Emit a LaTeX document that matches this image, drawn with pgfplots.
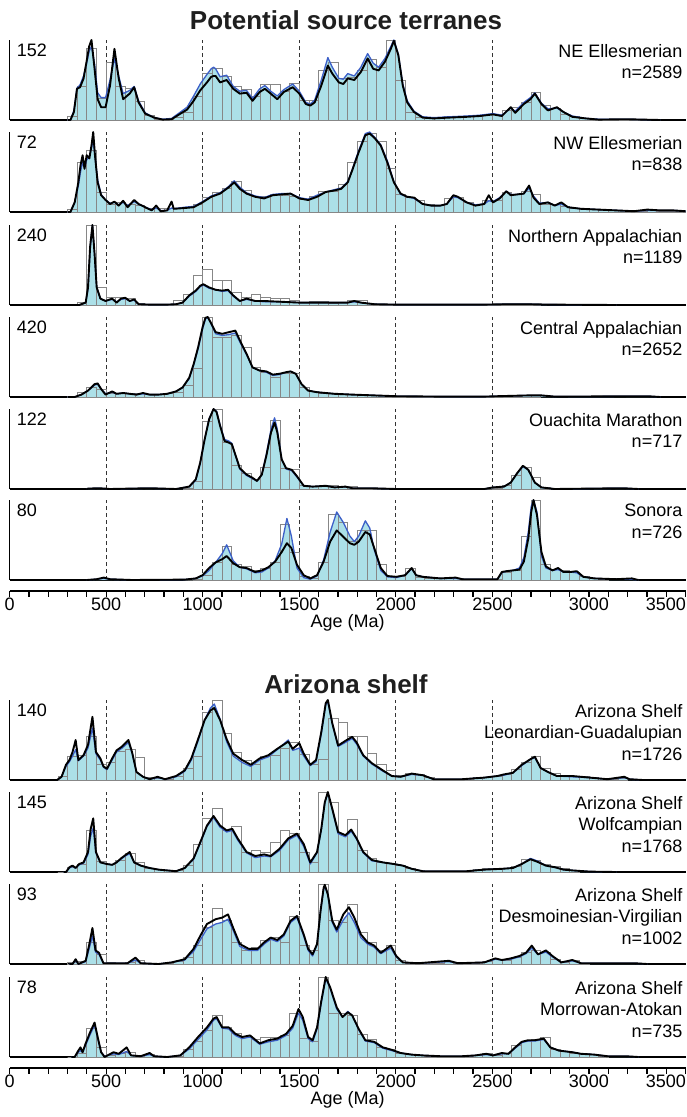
\documentclass[border=0pt]{standalone}
\usepackage{fontspec}
\setmainfont{Liberation Sans}
\usepackage{pgfplots}
\usepackage{pgfplotstable}
\pgfplotsset{compat=1.18}
\definecolor{fillc}{RGB}{172,224,232}
\definecolor{blc}{RGB}{60,95,200}
\definecolor{barc}{RGB}{135,135,135}
\newcommand{\lbl}{\fontsize{18}{21.5}\selectfont}

% ---------- NE Ellesmerian ----------
\pgfplotstableread{
a k p
300 0 0
315 0 0
333 10 12
349 39 40
365 41 44
383 52 55
400 75 72
412 92 86
424 100 92
440 64 70
456 26 34
474 16 28
497 16 28
520 43 50
543 89 77
565 52 55
588 26 33
622 33 37
645 41 42
668 22 24
702 8 9
748 3 3
793 0.5 1
839 1 2
885 8 10
919 13 16
953 24 30
987 37 45
1022 47 57
1044 54 64
1056 55 66
1067 55 64
1090 47 54
1124 50 56
1158 39 42
1192 33 36
1227 34 37
1258 24 27
1295 35 39
1322 39 43
1352 33 36
1386 26 30
1420 35 38
1466 41 45
1500 33 36
1534 20 22
1557 18 20
1580 22 25
1614 43 50
1648 68 78
1671 58 66
1705 47 52
1728 45 51
1751 52 58
1785 50 55
1819 60 66
1854 77 83
1883 64 71
1911 62 66
1944 73 77
1974 89 92
1990 99 100
2013 81 82
2036 43 45
2059 22 24
2094 10 11
2139 3 4
2196 2 3
2275 3 4
2367 4 5
2435 5 6
2503 7 8
2549 5 6
2595 16 15
2618 9 11
2663 20 22
2697 26 28
2720 33 34
2754 20 21
2788 12 14
2834 16 15
2868 10 10
2914 4 5
2982 2 2
3051 0.5 1
3188 1 1
3279 0.5 0.5
3370 0 0
}\cA
\pgfplotstableread{
a h
300 5
350 42
400 90
450 27
500 72
550 42
600 40
650 23
700 6
750 1
800 1
850 3
900 10
950 30
1000 58
1050 65
1100 55
1150 42
1200 38
1250 30
1300 45
1350 45
1400 36
1450 46
1500 24
1550 25
1600 62
1650 72
1700 52
1750 53
1800 62
1850 76
1900 66
1950 100
2000 50
2050 10
2100 3
2150 3
2200 3
2250 4
2300 4
2350 5
2400 5
2450 7
2500 7
2550 12
2600 16
2650 22
2700 34
2750 18
2800 14
2850 7
2900 4
2950 2
3000 1
3050 1
3100 1
3150 1
3200 1
3250 0
3300 0
}\hA

% ---------- NW Ellesmerian ----------
\pgfplotstableread{
a k p
300 0 0
315 0 0
337 12 12
356 37 33
367 58 50
378 71 62
388 54 55
399 71 65
413 67 70
424 83 80
433 100 90
442 71 70
456 37 40
474 21 22
497 15 15
520 10 11
543 13 12
565 8 9
588 14 12
611 6 8
645 15 13
668 10 10
702 6 6
736 2 3
759 8 5
782 1 2
816 2 2
839 13 5
850 4 4
907 5 6
953 6 7
999 12 13
1044 19 20
1090 23 24
1135 31 32
1163 37 39
1192 29 31
1227 23 24
1272 19 20
1318 17 18
1363 21 22
1409 22 23
1455 23 23
1500 17 18
1546 15 16
1592 19 21
1637 25 25
1683 27 28
1717 29 30
1751 37 38
1774 52 53
1808 75 77
1842 96 98
1865 98 100
1892 92 93
1922 83 84
1956 62 64
1990 37 38
2025 23 22
2059 19 19
2094 18 17
2139 10 10
2184 8 8
2230 8 8
2264 10 10
2298 21 19
2321 19 18
2367 12 12
2412 8 9
2458 10 10
2481 21 14
2503 12 13
2538 17 18
2572 26 26
2595 21 22
2629 22 22
2663 23 23
2690 33 30
2713 18 20
2743 10 11
2788 12 12
2823 8 8
2857 12 10
2891 6 6
2959 4 4
3051 3 3
3142 2 2
3233 1 1
3302 3 2
3370 2 2
3438 2 2
3500 1 1
}\cB
\pgfplotstableread{
a h
300 3
350 62
400 77
450 25
500 10
550 12
600 10
650 8
700 4
750 4
800 5
850 5
900 6
950 9
1000 18
1050 25
1100 30
1150 38
1200 27
1250 20
1300 19
1350 22
1400 21
1450 20
1500 16
1550 19
1600 26
1650 26
1700 34
1750 62
1800 88
1850 98
1900 88
1950 55
2000 22
2050 18
2100 15
2150 9
2200 8
2250 17
2300 18
2350 12
2400 9
2450 14
2500 14
2550 25
2600 22
2650 26
2700 22
2750 10
2800 10
2850 7
2900 5
2950 4
3000 3
3050 2
3100 2
3150 2
3200 1
3250 1
3300 2
3350 1
3400 1
3450 1
3500 0
}\hB

% ---------- Northern Appalachian ----------
\pgfplotstableread{
a k p
350 0 0
360 0 0
394 3 3
406 22 20
417 73 70
429 100 100
440 64 62
451 22 22
470 8 8
497 5 5
531 8 7
554 3 4
577 8 7
599 9 8
622 5 5
645 7 6
668 1 1
725 0.5 0.5
816 0.5 0.5
862 1 1
896 3 3
930 12 11
964 18 17
987 24 23
1003 26 25
1033 22 21
1067 19 19
1101 18 17
1131 19 18
1158 12 11
1192 5 5
1227 8 7
1272 5 5
1318 5 4
1409 4 4
1500 3 3
1592 3 3
1683 3 3
1751 3 3
1785 5 4
1819 3 3
1888 1 1
2002 0.5 0.5
2230 0.5 0.5
2458 0.5 0.5
2572 1 1
2686 1 1
2800 0.5 0.5
3142 0 0
}\cC
\pgfplotstableread{
a h
350 3
400 100
450 22
500 9
550 10
600 8
650 2
700 1
750 1
800 1
850 6
900 13
950 37
1000 45
1050 31
1100 31
1150 16
1200 10
1250 13
1300 9
1350 8
1400 8
1450 6
1500 3
1550 5
1600 5
1650 2
1700 3
1750 6
1800 6
1850 2
1900 1
1950 1
2000 0.5
2050 0.5
2100 0.5
2150 0.5
2200 0.5
2250 0.5
2300 0.5
2350 0.5
2400 0.5
2450 0.5
2500 1
2550 2
2600 2
2650 2
2700 1
2750 0
}\hC

% ---------- Central Appalachian ----------
\pgfplotstableread{
a k p
300 0 0
337 0 0
372 3 3
406 8 8
440 16 15
456 17 16
474 10 10
497 3 4
531 7 6
554 4 4
588 5 5
622 4 4
657 3 3
691 5 4
725 3 3
771 3 3
816 4 4
862 7 7
896 12 12
930 24 23
953 41 40
976 62 60
999 87 85
1014 99 97
1026 100 100
1044 92 91
1067 81 79
1101 79 77
1135 81 78
1169 83 80
1192 71 69
1227 54 53
1258 37 37
1295 33 33
1329 32 31
1363 28 27
1397 29 28
1432 31 31
1455 32 32
1482 29 29
1512 16 16
1546 8 8
1592 6 6
1637 5 5
1683 4 4
1774 3 3
1888 2 2
2002 1 1
2230 0.5 0.5
2458 0.5 0.5
2526 1 1
2686 2 2
2754 2 2
2823 0.5 0.5
3302 1 1
3370 0 0
}\cD
\pgfplotstableread{
a h
300 1
350 6
400 12
450 10
500 4
550 4
600 4
650 4
700 3
750 3
800 4
850 6
900 15
950 36
1000 100
1050 75
1100 75
1150 77
1200 62
1250 37
1300 31
1350 25
1400 29
1450 29
1500 12
1550 7
1600 5
1650 4
1700 3
1750 3
1800 3
1850 2
1900 2
1950 1
2000 1
2050 0.5
2100 0.5
2150 0.5
2200 0.5
2250 0.5
2300 0.5
2350 0.5
2400 0.5
2450 0.5
2500 0.5
2550 1
2600 1
2650 2
2700 2
2750 0
}\hD

% ---------- Ouachita Marathon ----------
\pgfplotstableread{
a k p
400 0 0
406 0.5 0.5
463 1 1
520 0 0
725 1 1
862 0 0
930 3 3
964 12 11
987 33 32
1010 62 62
1033 87 88
1056 100 100
1072 96 97
1090 79 80
1113 60 62
1135 58 60
1151 56 57
1169 43 42
1192 26 25
1227 18 17
1258 14 13
1281 10 10
1306 18 18
1329 41 43
1354 71 75
1372 83 89
1386 71 75
1409 37 37
1432 26 25
1461 24 23
1488 16 15
1523 4 4
1569 3 3
1637 4 4
1683 2 2
1739 3 3
1774 1 1
1865 1 1
2002 0 0
2458 0 0
2503 2 2
2560 3 3
2595 8 8
2629 20 20
2658 29 28
2686 24 24
2720 8 8
2754 2 2
2823 0 0
3176 1 1
3256 0 0
}\cE
\pgfplotstableread{
a h
900 1
950 10
1000 85
1050 100
1100 58
1150 30
1200 20
1250 12
1300 27
1350 86
1400 26
1450 25
1500 4
1550 3
1600 3
1650 4
1700 2
1750 3
1800 1
1850 1
1900 0
2500 1
2550 4
2600 17
2650 27
2700 14
2750 2
2800 0
}\hE

% ---------- Sonora ----------
\pgfplotstableread{
a k p
400 0 0
451 1 1
488 3 2
520 1 1
634 0 0
907 0.5 0.5
964 2 2
999 6 5
1033 15 12
1067 22 22
1101 26 33
1124 30 44
1158 21 24
1192 16 16
1227 15 14
1272 10 9
1306 12 10
1340 16 15
1375 23 24
1409 35 45
1436 46 77
1459 40 55
1488 19 15
1523 6 3
1557 2 1
1592 6 5
1626 23 25
1660 48 60
1694 62 85
1728 54 72
1762 46 55
1785 44 48
1808 48 55
1842 60 74
1865 57 65
1888 40 38
1922 15 12
1956 5 4
2002 4 3
2048 6 6
2082 15 14
2105 6 6
2139 4 4
2184 3 3
2230 2 2
2310 3 2
2344 1 1
2458 1 1
2526 1 1
2549 10 9
2572 11 11
2606 12 12
2640 13 15
2663 23 28
2686 52 60
2701 85 92
2713 100 100
2731 81 85
2754 35 30
2777 17 15
2811 12 12
2840 15 13
2868 10 10
2903 10 10
2937 11 9
2971 4 4
3028 2 2
3142 1 1
3222 2 1
3256 0 0
}\cF
\pgfplotstableread{
a h
900 0
950 1
1000 6
1050 22
1100 42
1150 20
1200 17
1250 12
1300 14
1350 22
1400 70
1450 35
1500 4
1550 2
1600 22
1650 82
1700 72
1750 48
1800 62
1850 62
1900 20
1950 5
2000 4
2050 15
2100 3
2150 2
2200 2
2250 2
2300 2
2350 1
2400 1
2450 1
2500 1
2550 10
2600 12
2650 55
2700 100
2750 20
2800 13
2850 12
2900 10
2950 4
3000 2
3050 1
3100 0
}\hF

% ---------- AZ Leonardian-Guadalupian ----------
\pgfplotstableread{
a k p
230 0 0
246 0 0
269 4 4
292 19 17
310 25 23
326 35 30
342 50 38
356 25 24
383 31 30
406 44 40
429 79 65
447 35 33
470 27 25
486 17 16
504 14 13
531 27 25
554 37 35
583 42 40
615 50 47
634 35 34
657 10 10
691 4 4
725 1 1
766 4 3
805 1 1
862 5 4
907 12 11
941 27 25
976 51 49
1010 75 75
1040 87 90
1060 90 95
1090 75 76
1124 51 48
1158 33 30
1204 25 22
1249 19 17
1295 27 25
1340 31 29
1386 39 38
1443 48 50
1466 39 37
1500 46 40
1523 33 30
1557 19 18
1587 25 23
1614 60 58
1637 96 94
1648 100 98
1671 71 70
1701 43 42
1739 49 47
1774 54 52
1797 47 45
1831 31 30
1876 21 20
1933 12 11
1979 5 5
2025 4 4
2082 8 7
2139 6 6
2196 1 1
2344 1 1
2458 3 3
2526 5 5
2560 7 6
2606 9 9
2652 19 18
2697 26 26
2720 29 28
2750 15 15
2788 10 10
2834 5 5
2914 5 4
3005 3 3
3096 1 1
3183 4 3
3210 1 1
3279 0 0
}\cG
\pgfplotstableread{
a h
250 5
300 30
350 31
400 55
450 20
500 22
550 36
600 38
650 28
700 3
750 2
800 1
850 5
900 15
950 29
1000 85
1050 100
1100 58
1150 35
1200 25
1250 20
1300 30
1350 31
1400 40
1450 47
1500 32
1550 20
1600 26
1650 77
1700 72
1750 55
1800 55
1850 33
1900 20
1950 12
2000 6
2050 8
2100 7
2150 3
2200 1
2250 1
2300 1
2350 1
2400 3
2450 3
2500 5
2550 7
2600 13
2650 22
2700 30
2750 15
2800 8
2850 5
2900 4
2950 4
3000 3
3050 2
3100 1
3150 2
3200 0
}\hG

% ---------- AZ Wolfcampian ----------
\pgfplotstableread{
a k p
280 0 0
292 0 0
310 6 5
326 8 7
342 5 5
360 10 9
383 12 11
406 25 22
420 54 45
433 67 55
447 25 24
470 12 12
504 10 10
531 9 9
554 12 12
577 17 16
599 21 20
622 25 23
645 12 12
679 8 8
725 5 5
771 3 3
816 2 2
862 1 1
907 5 5
953 17 16
987 37 36
1022 58 57
1056 70 68
1090 58 56
1124 52 50
1153 54 52
1181 42 40
1227 25 24
1272 20 18
1318 22 20
1352 20 19
1398 29 27
1443 42 40
1488 48 46
1523 35 32
1557 12 10
1592 25 24
1614 54 53
1632 87 86
1648 100 99
1671 79 78
1701 50 48
1739 46 44
1769 53 51
1797 42 41
1831 25 24
1876 15 14
1933 12 12
1990 10 10
2036 8 8
2082 4 4
2139 1 1
2230 1 1
2367 1 1
2458 3 3
2549 4 4
2606 5 5
2652 10 10
2697 16 17
2731 13 14
2777 8 8
2823 6 6
2868 3 3
2914 2 2
3005 0.5 0.5
3142 0 0
}\cH
\pgfplotstableread{
a h
250 0
300 6
350 10
400 52
450 13
500 10
550 14
600 23
650 12
700 5
750 3
800 2
850 2
900 8
950 34
1000 67
1050 79
1100 52
1150 57
1200 25
1250 27
1300 25
1350 37
1400 52
1450 48
1500 25
1550 12
1600 100
1650 87
1700 47
1750 66
1800 27
1850 17
1900 12
1950 11
2000 8
2050 4
2100 2
2150 1
2200 1
2250 1
2300 1
2350 1
2400 3
2450 4
2500 4
2550 5
2600 7
2650 16
2700 15
2750 9
2800 7
2850 4
2900 2
2950 0
}\hH

% ---------- AZ Desmoinesian-Virgilian ----------
\pgfplotstableread{
a k p
310 0 0
326 0 0
342 6 4
356 0 0
394 4 3
413 25 20
429 45 35
445 17 15
463 14 12
486 1 1
543 1 1
611 1 1
652 8 5
679 1 1
771 0 0
839 2 2
907 6 5
953 19 16
987 35 30
1022 50 44
1067 56 50
1101 58 52
1131 62 56
1158 45 42
1192 25 22
1238 19 17
1284 19 17
1318 27 25
1352 33 31
1386 30 28
1420 37 35
1455 54 52
1488 60 58
1523 37 35
1546 19 17
1569 12 10
1592 25 24
1610 66 66
1626 95 93
1632 99 97
1648 87 87
1671 54 52
1694 43 40
1728 62 55
1757 71 64
1785 58 52
1819 37 33
1854 27 25
1888 23 21
1922 14 13
1974 23 20
2002 10 9
2036 2 2
2116 1 1
2275 4 3
2321 1 1
2458 2 2
2515 7 6
2549 5 5
2595 7 6
2640 10 9
2674 14 13
2704 23 20
2736 12 12
2777 17 15
2811 10 9
2857 2 2
2914 5 4
2959 1 1
3142 1 1
3233 1 1
3302 0 0
}\cI
\pgfplotstableread{
a h
300 2
350 3
400 27
450 12
500 2
550 1
600 2
650 5
700 1
750 1
800 1
850 3
900 8
950 23
1000 46
1050 69
1100 54
1150 27
1200 17
1250 21
1300 30
1350 33
1400 27
1450 60
1500 23
1550 17
1600 100
1650 54
1700 52
1750 75
1800 39
1850 27
1900 17
1950 23
2000 4
2050 1
2100 1
2150 1
2200 1
2250 3
2300 1
2350 1
2400 1
2450 3
2500 6
2550 5
2600 8
2650 14
2700 17
2750 15
2800 6
2850 2
2900 4
2950 1
3000 0
}\hI

% ---------- AZ Morrowan-Atokan ----------
\pgfplotstableread{
a k p
320 0 0
337 0 0
356 8 6
367 12 8
378 6 6
394 17 15
417 31 28
440 43 40
456 25 24
474 6 6
492 0 1
538 6 4
565 4 3
606 12 7
629 2 2
679 1 1
725 5 3
748 1 1
816 0 0
884 2 2
930 12 10
976 25 22
1022 37 34
1056 48 46
1072 50 48
1101 37 36
1135 37 35
1169 29 27
1204 25 23
1245 27 25
1295 17 16
1340 21 19
1386 23 21
1432 29 27
1466 39 36
1496 60 55
1518 50 46
1546 25 23
1569 21 19
1592 37 35
1614 70 68
1637 100 98
1660 87 86
1694 62 60
1724 50 50
1751 56 57
1774 52 52
1808 35 34
1842 21 20
1888 19 18
1933 12 11
1979 9 8
2025 5 5
2082 3 3
2139 2 2
2230 1 1
2344 1 1
2412 2 2
2469 4 3
2503 2 2
2549 5 4
2583 4 4
2618 12 11
2652 19 18
2686 21 20
2720 21 20
2766 23 22
2800 12 12
2845 8 8
2914 6 6
2959 4 4
3028 3 3
3096 1 1
3188 1 1
3256 0 0
}\cJ
\pgfplotstableread{
a h
300 0
350 5
400 36
450 12
500 2
550 4
600 6
650 1
700 3
750 1
800 0.5
850 1
900 10
950 20
1000 33
1050 52
1100 37
1150 30
1200 26
1250 22
1300 24
1350 25
1400 27
1450 55
1500 23
1550 20
1600 100
1650 55
1700 55
1750 52
1800 28
1850 22
1900 12
1950 10
2000 5
2050 3
2100 2
2150 1
2200 1
2250 1
2300 1
2350 1
2400 2
2450 4
2500 2
2550 4
2600 15
2650 20
2700 22
2750 25
2800 10
2850 7
2900 5
2950 4
3000 3
3050 1
3100 0
}\hJ

\pgfplotsset{
  panel/.style={scale only axis, width=675.9pt, height=80pt,
    xmin=0, xmax=3500, ymin=0, ymax=100,
    axis x line*=bottom, axis y line*=left,
    xtick=\empty, ytick=\empty, clip=false,
    x axis line style={line width=2.1pt},
    y axis line style={line width=1.4pt}},
  tickaxis/.style={scale only axis, width=675.9pt, height=10pt,
    xmin=0, xmax=3500, ymin=0, ymax=1, clip=false,
    axis x line*=bottom, axis y line=none,
    xtick={0,500,...,3500}, minor x tick num=4, xticklabels={},
    tick align=outside, major tick length=6pt, minor tick length=5.5pt,
    every tick/.style={black, line width=1.3pt},
    x axis line style={line width=2.1pt}},
  dsh/.style={black!80, line width=0.8pt, dash pattern=on 4pt off 3pt}
}

\newcommand{\panel}[5]{%
\begin{axis}[panel, at={(9.6pt,-#1pt)}, anchor=north west]
\addplot[dsh] coordinates {(500,0) (500,100)};
\addplot[dsh] coordinates {(1000,0) (1000,100)};
\addplot[dsh] coordinates {(1500,0) (1500,100)};
\addplot[dsh] coordinates {(2000,0) (2000,100)};
\addplot[dsh] coordinates {(2500,0) (2500,100)};
\addplot[fill=fillc, draw=none] table[x=a,y=p] {#2} \closedcycle;
\addplot[ybar interval, draw=barc, fill=none, line width=0.7pt] table[x=a,y=h] {#3};
\addplot[blc, line width=1.3pt, line join=round] table[x=a,y=p] {#2};
\addplot[black, line width=1.9pt, line join=round] table[x=a,y=k] {#2};
\node[anchor=base west, inner sep=0pt, font=\lbl, xshift=7pt, yshift=-16pt] at (rel axis cs:0,1) {#4};
\node[anchor=north east, align=right, inner sep=0pt, font=\lbl, xshift=-3pt, yshift=-4pt] at (rel axis cs:1,1) {#5};
\end{axis}}

\newcommand{\ticks}[1]{%
\begin{axis}[tickaxis, at={(9.6pt,-#1pt)}, anchor=south west]
\node[anchor=base, inner sep=0pt, font=\lbl, yshift=-19pt] at (axis cs:0,0) {0};
\node[anchor=base, inner sep=0pt, font=\lbl, yshift=-19pt] at (axis cs:500,0) {500};
\node[anchor=base, inner sep=0pt, font=\lbl, yshift=-19pt] at (axis cs:1000,0) {1000};
\node[anchor=base, inner sep=0pt, font=\lbl, yshift=-19pt] at (axis cs:1500,0) {1500};
\node[anchor=base, inner sep=0pt, font=\lbl, yshift=-19pt] at (axis cs:2000,0) {2000};
\node[anchor=base, inner sep=0pt, font=\lbl, yshift=-19pt] at (axis cs:2500,0) {2500};
\node[anchor=base, inner sep=0pt, font=\lbl, yshift=-19pt] at (axis cs:3000,0) {3000};
\node[anchor=base east, inner sep=0pt, font=\lbl, yshift=-19pt, xshift=0.5pt] at (axis cs:3500,0) {3500};
\node[anchor=base, inner sep=0pt, font=\lbl, yshift=-36pt] at (axis cs:1750,0) {Age (Ma)};
\end{axis}}

\begin{document}
\begin{tikzpicture}[x=1pt,y=1pt]
\useasboundingbox (0,0) rectangle (686,-1117);
\node[anchor=base, inner sep=0pt, font=\fontsize{26}{30}\selectfont\bfseries, text=black!88] at (346,-29.5) {Potential source terranes};
\panel{40}{\cA}{\hA}{152}{NE Ellesmerian\\n=2589}
\panel{132}{\cB}{\hB}{72}{NW Ellesmerian\\n=838}
\panel{225}{\cC}{\hC}{240}{Northern Appalachian\\n=1189}
\panel{317}{\cD}{\hD}{420}{Central Appalachian\\n=2652}
\panel{409}{\cE}{\hE}{122}{Ouachita Marathon\\n=717}
\panel{500}{\cF}{\hF}{80}{Sonora\\n=726}
\ticks{591}
\node[anchor=base, inner sep=0pt, font=\fontsize{26}{30}\selectfont\bfseries, text=black!88] at (346,-693) {Arizona shelf};
\panel{700}{\cG}{\hG}{140}{Arizona Shelf\\Leonardian-Guadalupian\\n=1726}
\panel{792}{\cH}{\hH}{145}{Arizona Shelf\\Wolfcampian\\n=1768}
\panel{884}{\cI}{\hI}{93}{Arizona Shelf\\Desmoinesian-Virgilian\\n=1002}
\panel{977}{\cJ}{\hJ}{78}{Arizona Shelf\\Morrowan-Atokan\\n=735}
\ticks{1068}
\end{tikzpicture}
\end{document}
